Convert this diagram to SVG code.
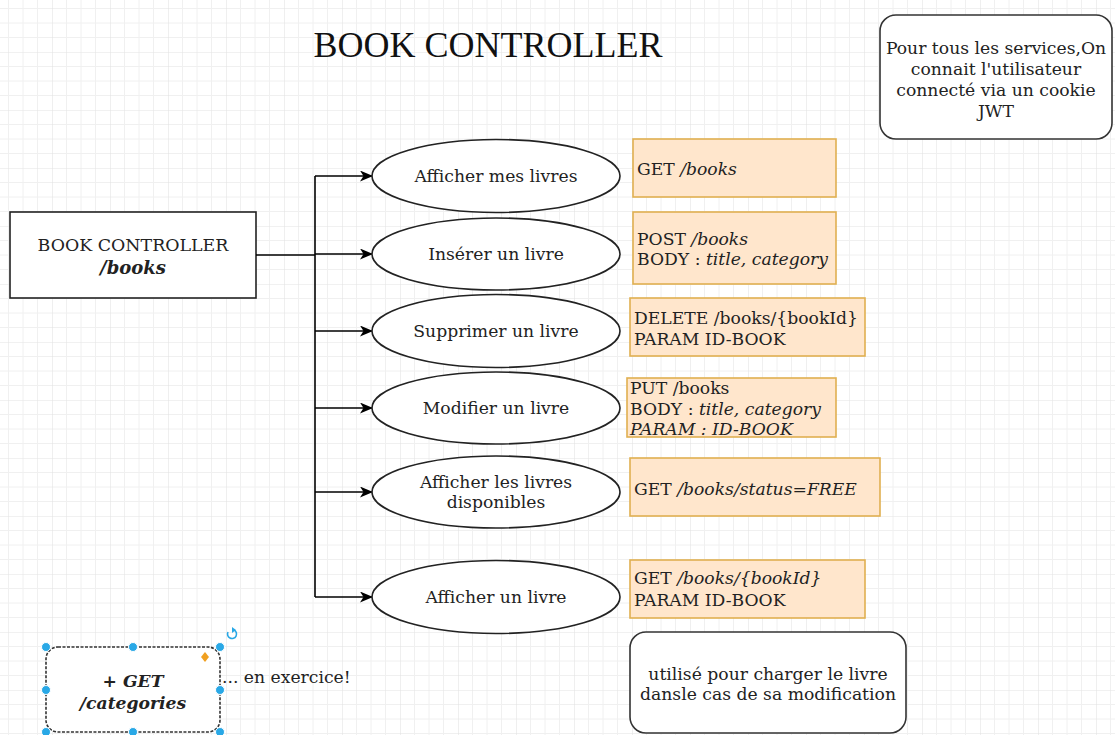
<svg xmlns="http://www.w3.org/2000/svg" width="1115" height="735" viewBox="0 0 1115 735">
<defs>
<pattern id="grid" x="-6" y="-6" width="58" height="58" patternUnits="userSpaceOnUse">
<path d="M14.5 0V58M29 0V58M43.5 0V58M0 14.5H58M0 29H58M0 43.5H58" stroke="#f0f0f0" stroke-width="1" fill="none"/>
<path d="M0 0V58M0 0H58" stroke="#e4e4e4" stroke-width="1.2" fill="none"/>
</pattern>
<marker id="arr" markerWidth="13" markerHeight="11" refX="12" refY="5.5" orient="auto" markerUnits="userSpaceOnUse">
<path d="M0,0 L13,5.5 L0,11 L3.5,5.5 Z" fill="#000"/>
</marker>
<style>
text{font-family:"DejaVu Serif","Liberation Serif",serif;fill:#222;font-size:17.2px}
.c{text-anchor:middle}
.ell{fill:#fff;stroke:#222;stroke-width:1.6}
.api{fill:#ffe6cc;stroke:#e0b050;stroke-width:1.6}
.note{fill:#fff;stroke:#333;stroke-width:1.6}
.edge{fill:none;stroke:#000;stroke-width:1.6}
.it{font-style:italic}
.h{fill:#29a8e6;stroke:#fff;stroke-width:1}
</style>
</defs>
<rect width="1115" height="735" fill="#fff"/>
<rect width="1115" height="735" fill="url(#grid)"/>

<g id="title"><text x="488" y="57" class="c" style="font-family:'Liberation Serif',serif;font-size:36px;fill:#111">BOOK CONTROLLER</text></g>

<g id="controller">
<rect x="10" y="212" width="246" height="86" fill="#fff" stroke="#222" stroke-width="1.6"/>
<text x="133" y="251" class="c" style="font-size:17.4px">BOOK CONTROLLER</text>
<text x="133" y="274" class="c" style="font-size:18px;font-weight:bold;font-style:italic">/books</text>
</g>

<g id="connectors">
<path class="edge" d="M256,255 H315"/>
<path class="edge" d="M315,176 V597"/>
<path class="edge" d="M315,176 H372" marker-end="url(#arr)"/>
<path class="edge" d="M315,254 H372" marker-end="url(#arr)"/>
<path class="edge" d="M315,331 H372" marker-end="url(#arr)"/>
<path class="edge" d="M315,408 H372" marker-end="url(#arr)"/>
<path class="edge" d="M315,492 H372" marker-end="url(#arr)"/>
<path class="edge" d="M315,597 H372" marker-end="url(#arr)"/>
</g>

<g id="n1"><ellipse class="ell" cx="496" cy="176" rx="124" ry="36.5"/><text x="496" y="182" class="c">Afficher mes livres</text></g>
<g id="n2"><ellipse class="ell" cx="496" cy="254" rx="124" ry="36"/><text x="496" y="260" class="c">Insérer un livre</text></g>
<g id="n3"><ellipse class="ell" cx="496" cy="331" rx="124" ry="36.5"/><text x="496" y="337" class="c">Supprimer un livre</text></g>
<g id="n4"><ellipse class="ell" cx="496" cy="408" rx="124" ry="36"/><text x="496" y="414" class="c">Modifier un livre</text></g>
<g id="n5"><ellipse class="ell" cx="496" cy="492" rx="124" ry="36"/><text x="496" y="488" class="c">Afficher les livres</text><text x="496" y="508" class="c">disponibles</text></g>
<g id="n6"><ellipse class="ell" cx="496" cy="597" rx="124" ry="36.5"/><text x="496" y="603" class="c">Afficher un livre</text></g>

<g id="api1"><rect class="api" x="633" y="139" width="203" height="58"/><text x="637" y="175">GET <tspan class="it">/books</tspan></text></g>
<g id="api2"><rect class="api" x="633" y="212" width="203" height="72"/><text x="637" y="245">POST <tspan class="it">/books</tspan></text><text x="637" y="265">BODY : <tspan class="it">title, category</tspan></text></g>
<g id="api3"><rect class="api" x="630" y="298" width="235" height="58"/><text x="634" y="324">DELETE /books/{bookId}</text><text x="634" y="345">PARAM ID-BOOK</text></g>
<g id="api4"><rect class="api" x="627" y="378" width="209" height="59"/><text x="630" y="394">PUT /books</text><text x="630" y="415">BODY : <tspan class="it">title, category</tspan></text><text x="630" y="435" class="it">PARAM : ID-BOOK</text></g>
<g id="api5"><rect class="api" x="630" y="458" width="250" height="58"/><text x="634" y="495">GET <tspan class="it">/books/status=FREE</tspan></text></g>
<g id="api6"><rect class="api" x="630" y="560" width="235" height="58"/><text x="634" y="584">GET <tspan class="it">/books/{bookId}</tspan></text><text x="634" y="606">PARAM ID-BOOK</text></g>

<g id="note-jwt"><rect class="note" x="880" y="15" width="232" height="124" rx="16"/>
<text x="996" y="54" class="c">Pour tous les services,On</text>
<text x="996" y="75" class="c">connait l'utilisateur</text>
<text x="996" y="96" class="c">connecté via un cookie</text>
<text x="996" y="117" class="c">JWT</text></g>

<g id="note-modif"><rect class="note" x="630" y="632" width="276" height="101" rx="16"/>
<text x="768" y="680" class="c">utilisé pour charger le livre</text>
<text x="768" y="700" class="c">dansle cas de sa modification</text></g>

<g id="categories">
<rect x="46" y="647" width="174" height="85" rx="12" fill="#fff" stroke="#333" stroke-width="1.6" stroke-dasharray="3 1.5"/>
<text x="133" y="687" class="c" style="font-weight:bold;font-style:italic">+ GET</text>
<text x="133" y="709" class="c" style="font-weight:bold;font-style:italic">/categories</text>
<circle class="h" cx="46" cy="647" r="4.5"/><circle class="h" cx="133" cy="647" r="4.5"/><circle class="h" cx="220" cy="647" r="4.5"/>
<circle class="h" cx="46" cy="690" r="4.5"/><circle class="h" cx="220" cy="690" r="4.5"/>
<circle class="h" cx="46" cy="732" r="4.5"/><circle class="h" cx="133" cy="732" r="4.5"/><circle class="h" cx="220" cy="732" r="4.5"/>
<path d="M205,652 L209,657 L205,662 L201,657 Z" fill="#f0a020"/>
<path d="M228,632 A4.5,4.5 0 1 0 234,630" fill="none" stroke="#29a8e6" stroke-width="1.6"/>
<path d="M232,627 L236,630 L232,633 Z" fill="#29a8e6"/>
</g>
<g id="exercise"><text x="222" y="683">... en exercice!</text></g>
</svg>
